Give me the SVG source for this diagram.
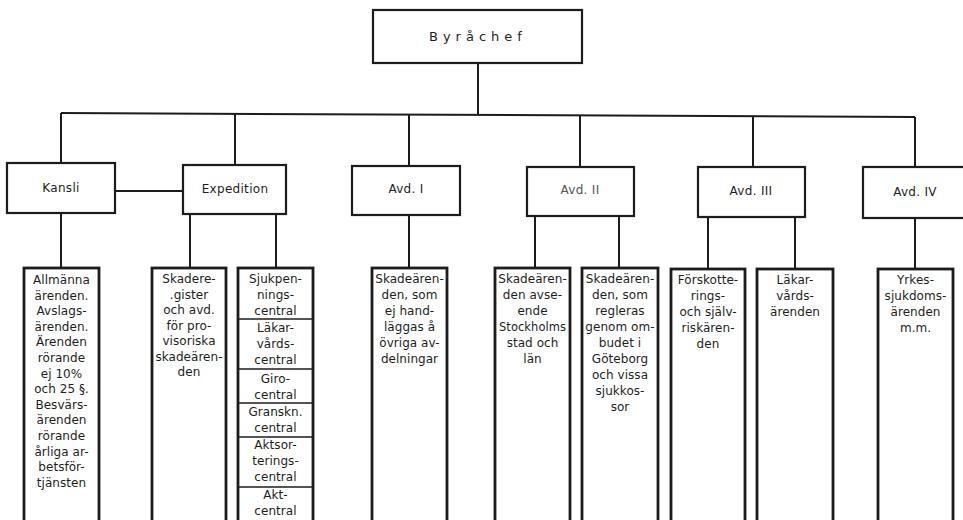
<svg xmlns="http://www.w3.org/2000/svg" width="963" height="520" viewBox="0 0 963 520">
<style>
.box{fill:#fff;stroke:#1c1c1c;stroke-width:2.2}
.col{fill:#fff;stroke:#1c1c1c;stroke-width:2.8}
.div{stroke:#1c1c1c;stroke-width:1.6}
.ln{fill:none;stroke:#1c1c1c;stroke-width:2}
text{font-family:"DejaVu Sans","Liberation Sans",sans-serif;fill:#1e1e1e;text-anchor:middle}
.hd{font-size:12px;letter-spacing:0.3px}
.t{font-size:12px;letter-spacing:0.05px}
</style>
<rect width="963" height="520" fill="#fff"/>
<g id="connectors">
<path class="ln" d="M478,63 V115"/>
<path class="ln" d="M61,113 L915,117"/>
<path class="ln" d="M61,113 V163"/>
<path class="ln" d="M235,114 V165"/>
<path class="ln" d="M409,115 V166"/>
<path class="ln" d="M580,116 V167"/>
<path class="ln" d="M753,116 V168"/>
<path class="ln" d="M915,117 V167"/>
<path class="ln" d="M115,191 H183"/>
<path class="ln" d="M61,213 V268"/>
<path class="ln" d="M190,214 V268"/>
<path class="ln" d="M276,214 V268"/>
<path class="ln" d="M409,215 V268"/>
<path class="ln" d="M535,216 V268"/>
<path class="ln" d="M619,216 V268"/>
<path class="ln" d="M708,217 V269"/>
<path class="ln" d="M795,217 V269"/>
<path class="ln" d="M915,218 V269"/>
</g>
<g id="byrachef">
<rect class="box" x="373" y="10" width="209" height="53"/>
<text x="429" y="41" style="font-size:13px;letter-spacing:5px;text-anchor:start">Byråchef</text>
</g>
<g id="kansli">
<rect class="box" x="7" y="163" width="108" height="50"/>
<text class="hd" x="61" y="192">Kansli</text>
</g>
<g id="expedition">
<rect class="box" x="183" y="165" width="103" height="49"/>
<text class="hd" x="235" y="193">Expedition</text>
</g>
<g id="avd1">
<rect class="box" x="352" y="166" width="108" height="49"/>
<text class="hd" x="406" y="193">Avd. I</text>
</g>
<g id="avd2">
<rect class="box" x="527" y="167" width="107" height="49"/>
<text class="hd" x="580" y="194" style="fill:#555">Avd. II</text>
</g>
<g id="avd3">
<rect class="box" x="698" y="167" width="107" height="50"/>
<text class="hd" x="751" y="195">Avd. III</text>
</g>
<g id="avd4">
<rect class="box" x="863" y="167" width="106" height="51"/>
<text class="hd" x="915" y="196">Avd. IV</text>
</g>
<g id="allmanna">
<rect class="col" x="24" y="268" width="75" height="270"/>
<text class="t" x="61.5" y="284">Allmänna</text>
<text class="t" x="61.5" y="299.6">ärenden.</text>
<text class="t" x="61.5" y="315.2">Avslags-</text>
<text class="t" x="61.5" y="330.8">ärenden.</text>
<text class="t" x="61.5" y="346.4">Ärenden</text>
<text class="t" x="61.5" y="362">rörande</text>
<text class="t" x="61.5" y="377.6">ej 10%</text>
<text class="t" x="61.5" y="393.2">och 25 §.</text>
<text class="t" x="61.5" y="408.8">Besvärs-</text>
<text class="t" x="61.5" y="424.4">ärenden</text>
<text class="t" x="61.5" y="440">rörande</text>
<text class="t" x="61.5" y="455.6">årliga ar-</text>
<text class="t" x="61.5" y="471.2">betsför-</text>
<text class="t" x="61.5" y="486.8">tjänsten</text>
</g>
<g id="skaderegister">
<rect class="col" x="152" y="268" width="74" height="270"/>
<text class="t" x="189" y="283">Skadere-</text>
<text class="t" x="189" y="298.5">.gister</text>
<text class="t" x="189" y="314">och avd.</text>
<text class="t" x="189" y="329.5">för pro-</text>
<text class="t" x="189" y="345">visoriska</text>
<text class="t" x="189" y="360.5">skadeären-</text>
<text class="t" x="189" y="376">den</text>
</g>
<g id="centraler">
<rect class="col" x="238" y="268" width="75" height="270"/>
<line class="div" x1="238" y1="319" x2="313" y2="319"/>
<line class="div" x1="238" y1="369" x2="313" y2="369"/>
<line class="div" x1="238" y1="403" x2="313" y2="403"/>
<line class="div" x1="238" y1="437" x2="313" y2="437"/>
<line class="div" x1="238" y1="487" x2="313" y2="487"/>
<text class="t" x="275.5" y="283">Sjukpen-</text>
<text class="t" x="275.5" y="299">nings-</text>
<text class="t" x="275.5" y="315">central</text>
<text class="t" x="275.5" y="332">Läkar-</text>
<text class="t" x="275.5" y="348">vårds-</text>
<text class="t" x="275.5" y="364">central</text>
<text class="t" x="275.5" y="383">Giro-</text>
<text class="t" x="275.5" y="399">central</text>
<text class="t" x="275.5" y="416">Granskn.</text>
<text class="t" x="275.5" y="432">central</text>
<text class="t" x="275.5" y="449">Aktsor-</text>
<text class="t" x="275.5" y="465">terings-</text>
<text class="t" x="275.5" y="481">central</text>
<text class="t" x="275.5" y="499">Akt-</text>
<text class="t" x="275.5" y="515">central</text>
</g>
<g id="avd1-col">
<rect class="col" x="372" y="268" width="75" height="270"/>
<text class="t" x="409.5" y="283">Skadeären-</text>
<text class="t" x="409.5" y="299">den, som</text>
<text class="t" x="409.5" y="315">ej hand-</text>
<text class="t" x="409.5" y="331">läggas å</text>
<text class="t" x="409.5" y="347">övriga av-</text>
<text class="t" x="409.5" y="363">delningar</text>
</g>
<g id="avd2-col1">
<rect class="col" x="495" y="268" width="75" height="270"/>
<text class="t" x="532.5" y="283">Skadeären-</text>
<text class="t" x="532.5" y="299">den avse-</text>
<text class="t" x="532.5" y="315">ende</text>
<text class="t" x="532.5" y="331" style="font-size:11.5px">Stockholms</text>
<text class="t" x="532.5" y="347">stad och</text>
<text class="t" x="532.5" y="363">län</text>
</g>
<g id="avd2-col2">
<rect class="col" x="582" y="268" width="76" height="270"/>
<text class="t" x="620" y="283">Skadeären-</text>
<text class="t" x="620" y="299">den, som</text>
<text class="t" x="620" y="315">regleras</text>
<text class="t" x="620" y="331">genom om-</text>
<text class="t" x="620" y="347">budet i</text>
<text class="t" x="620" y="363">Göteborg</text>
<text class="t" x="620" y="379">och vissa</text>
<text class="t" x="620" y="395">sjukkos-</text>
<text class="t" x="620" y="411">sor</text>
</g>
<g id="avd3-col1">
<rect class="col" x="671" y="269" width="74" height="270"/>
<text class="t" x="708" y="284">Förskotte-</text>
<text class="t" x="708" y="300">rings-</text>
<text class="t" x="708" y="316">och själv-</text>
<text class="t" x="708" y="332">riskären-</text>
<text class="t" x="708" y="348">den</text>
</g>
<g id="avd3-col2">
<rect class="col" x="757" y="269" width="76" height="270"/>
<text class="t" x="795" y="284">Läkar-</text>
<text class="t" x="795" y="300">vårds-</text>
<text class="t" x="795" y="316">ärenden</text>
</g>
<g id="avd4-col">
<rect class="col" x="878" y="269" width="75" height="270"/>
<text class="t" x="915.5" y="284">Yrkes-</text>
<text class="t" x="915.5" y="300">sjukdoms-</text>
<text class="t" x="915.5" y="316">ärenden</text>
<text class="t" x="915.5" y="332">m.m.</text>
</g>
</svg>
